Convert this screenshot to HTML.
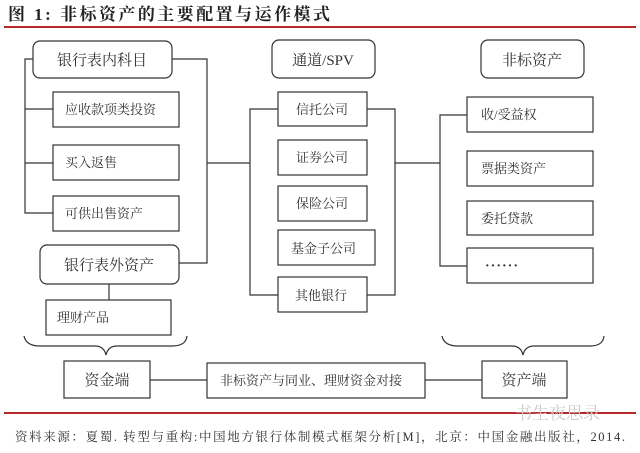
<!DOCTYPE html>
<html><head><meta charset="utf-8"><style>
body{margin:0;background:#fff;}
svg{display:block}
text{font-family:"Liberation Serif","Noto Serif CJK SC",serif;fill:#333;}
</style></head><body>
<svg width="640" height="453" viewBox="0 0 640 453" xmlns="http://www.w3.org/2000/svg">
<text x="8" y="20" font-size="17" font-weight="bold" style="fill:#222" textLength="322" lengthAdjust="spacing">图 1:  非标资产的主要配置与运作模式</text>
<line x1="4" y1="27" x2="636" y2="27" stroke="#b8262a" stroke-width="2"/>
<g fill="none" stroke="#333" stroke-width="1.2">
<rect x="33" y="41" width="139" height="37" rx="7"/>
<rect x="53" y="92" width="126" height="35"/>
<rect x="53" y="145" width="126" height="35"/>
<rect x="53" y="196" width="126" height="35"/>
<rect x="40" y="245" width="139" height="39" rx="7"/>
<rect x="46" y="300" width="125" height="35"/>
<rect x="272" y="40" width="103" height="38" rx="7"/>
<rect x="278" y="92" width="89" height="34"/>
<rect x="278" y="140" width="89" height="35"/>
<rect x="278" y="186" width="89" height="35"/>
<rect x="278" y="230" width="97" height="35"/>
<rect x="278" y="277" width="89" height="35"/>
<rect x="481" y="40" width="103" height="38" rx="7"/>
<rect x="467" y="97" width="126" height="35"/>
<rect x="467" y="151" width="126" height="35"/>
<rect x="467" y="201" width="126" height="34"/>
<rect x="467" y="248" width="126" height="35"/>
<rect x="64" y="361" width="86" height="37"/>
<rect x="207" y="363" width="218" height="35"/>
<rect x="482" y="361" width="85" height="37"/>
<polyline points="33,59 25,59 25,213 53,213"/>
<line x1="25" y1="109" x2="53" y2="109"/>
<line x1="25" y1="163" x2="53" y2="163"/>
<polyline points="172,59 207,59 207,263 179,263"/>
<line x1="109" y1="284" x2="109" y2="300"/>
<line x1="207" y1="163" x2="250" y2="163"/>
<polyline points="278,109 250,109 250,295 278,295"/>
<polyline points="367,109 395,109 395,295 367,295"/>
<line x1="395" y1="163" x2="440" y2="163"/>
<polyline points="467,115 440,115 440,266 467,266"/>
<line x1="150" y1="380" x2="207" y2="380"/>
<line x1="425" y1="380" x2="482" y2="380"/>
<path d="M24,336 Q26,346 40,346 L95,346 Q104,346 106,355 Q108,346 117,346 L172,346 Q186,346 187,336"/>
<path d="M442,336 Q444,346 458,346 L512,346 Q521,346 523,355 Q525,346 534,346 L590,346 Q603,346 604,336"/>
</g>
<g font-size="15" text-anchor="middle">
<text x="102" y="65">银行表内科目</text>
<text x="109" y="270">银行表外资产</text>
<text x="323" y="65">通道/SPV</text>
<text x="532" y="65">非标资产</text>
<text x="107" y="385">资金端</text>
<text x="524" y="385">资产端</text>
</g>
<g font-size="13">
<text x="65" y="114">应收款项类投资</text>
<text x="65" y="167">买入返售</text>
<text x="65" y="218">可供出售资产</text>
<text x="57" y="322">理财产品</text>
<text x="296" y="114">信托公司</text>
<text x="296" y="162">证券公司</text>
<text x="296" y="208">保险公司</text>
<text x="291" y="253">基金子公司</text>
<text x="295" y="300">其他银行</text>
<text x="481" y="119">收/受益权</text>
<text x="481" y="173">票据类资产</text>
<text x="481" y="223">委托贷款</text>
<text x="485" y="270" font-weight="bold" font-size="14" letter-spacing="1">······</text>
<text x="220" y="385">非标资产与同业、理财资金对接</text>
</g>
<line x1="4" y1="413" x2="636" y2="413" stroke="#b8262a" stroke-width="2"/>
<text x="515" y="419" font-size="17" style="fill:#ccc">书生夜思录</text>
<text x="15" y="441" font-size="12.5" textLength="610" lengthAdjust="spacing">资料来源：夏蜀. 转型与重构:中国地方银行体制模式框架分析[M]，北京：中国金融出版社，2014.</text>
</svg>
</body></html>
